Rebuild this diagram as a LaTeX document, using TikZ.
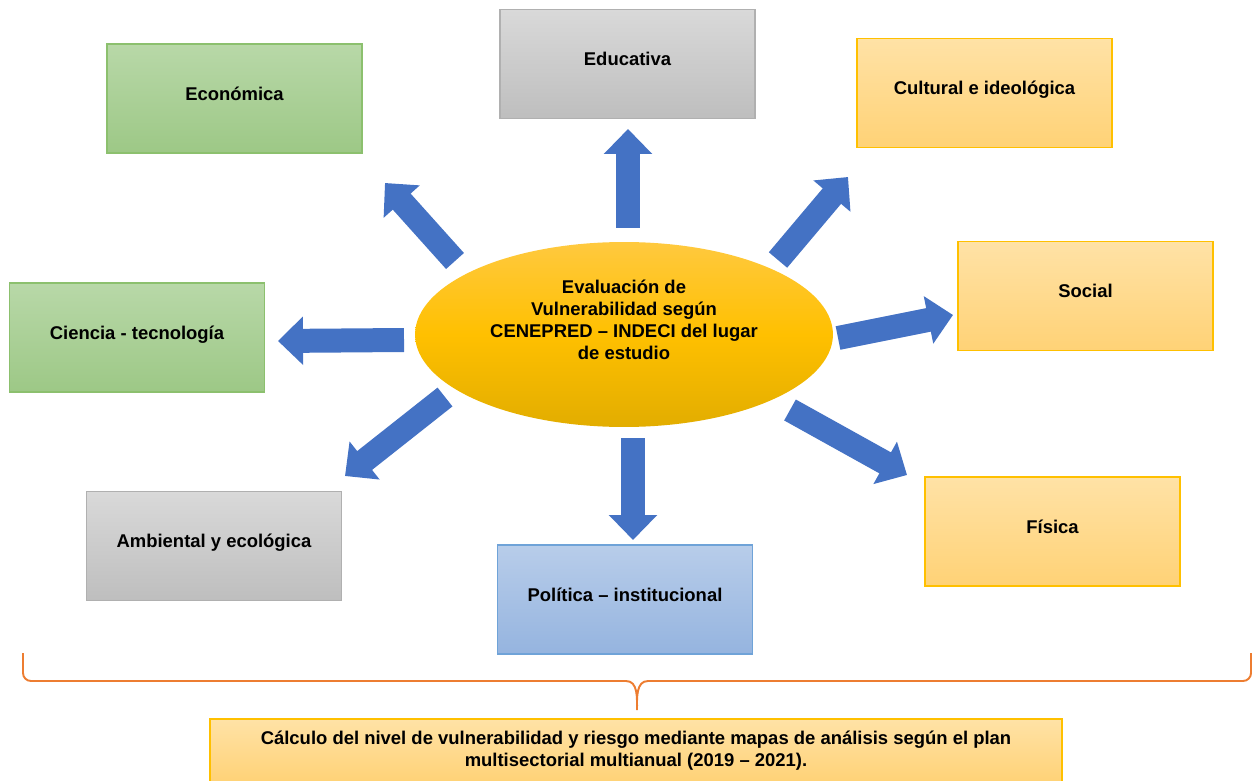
\documentclass[tikz,border=0pt]{standalone}
\usepackage{fontspec}
\setmainfont{Liberation Sans}
\usetikzlibrary{arrows.meta,shapes.geometric}
\definecolor{verdeborde}{HTML}{8CC06E}
\definecolor{verdearriba}{HTML}{B8D8A8}
\definecolor{verdeabajo}{HTML}{9DC886}
\definecolor{grisborde}{HTML}{B0B0B0}
\definecolor{grisarriba}{HTML}{D9D9D9}
\definecolor{grisabajo}{HTML}{BEBEBE}
\definecolor{amarilloborde}{HTML}{FFC000}
\definecolor{amarilloarriba}{HTML}{FFE2A6}
\definecolor{amarilloabajo}{HTML}{FFD276}
\definecolor{celesteborde}{HTML}{6FA3D8}
\definecolor{celestearriba}{HTML}{B8CDEA}
\definecolor{celesteabajo}{HTML}{95B4DF}
\definecolor{oroarriba}{HTML}{FFC93F}
\definecolor{oro}{HTML}{FFC000}
\definecolor{oroabajo}{HTML}{E2AD00}
\definecolor{azulflecha}{HTML}{4472C4}
\definecolor{naranja}{HTML}{ED7D31}
\begin{document}
\begin{tikzpicture}[x=0.02cm,y=-0.02cm,
	every node/.style={font=\bfseries\fontsize{10.5}{12.6}\selectfont,align=center},
	caja/.style={draw,line width=0.7pt,minimum width=5.1cm,minimum height=2.18cm,inner sep=0pt,text height=8pt,text depth=6pt},
	verde/.style={caja,draw=verdeborde,top color=verdearriba,bottom color=verdeabajo},
	gris/.style={caja,draw=grisborde,top color=grisarriba,bottom color=grisabajo},
	amarillo/.style={caja,draw=amarilloborde,top color=amarilloarriba,bottom color=amarilloabajo},
	celeste/.style={caja,draw=celesteborde,top color=celestearriba,bottom color=celesteabajo},
	flecha/.style={draw=azulflecha,line width=0.48cm,-{Triangle[width=0.94cm,length=0.5cm]}},
	llave/.style={draw=naranja,line width=1.1pt}]
	\useasboundingbox (0,0) rectangle (1256,780);
	% centro
	\node[ellipse,minimum width=8.36cm,minimum height=3.7cm,inner sep=0pt,top color=oroarriba,bottom color=oroabajo,middle color=oro] (eva) at (624,334.5) {};
	\node (evatexto) at (624,320) {Evaluación de\\Vulnerabilidad según\\CENEPRED – INDECI del lugar\\de estudio};
	% dimensiones
	\node[verde] (eco) at (234.5,98.5) {Económica};
	\node[gris] (edu) at (627.5,64) {Educativa};
	\node[amarillo] (cul) at (984.5,93) {Cultural e ideológica};
	\node[amarillo] (soc) at (1085.5,296) {Social};
	\node[verde] (cie) at (137,337.5) {Ciencia - tecnología};
	\node[gris] (amb) at (214,546) {Ambiental y ecológica};
	\node[celeste] (pol) at (625,599.5) {Política – institucional};
	\node[amarillo] (fis) at (1052.5,531.5) {Física};
	% flechas
	\coordinate (edu0) at (628,228); \coordinate (edu1) at (628,129);
	\coordinate (eco0) at (455,261); \coordinate (eco1) at (385,183);
	\coordinate (cul0) at (778,260); \coordinate (cul1) at (848,177);
	\coordinate (soc0) at (838,338); \coordinate (soc1) at (953,315);
	\coordinate (cie0) at (404,340); \coordinate (cie1) at (278,341);
	\coordinate (amb0) at (445,397); \coordinate (amb1) at (345,476);
	\coordinate (pol0) at (633,438); \coordinate (pol1) at (633,540);
	\coordinate (fis0) at (790,410); \coordinate (fis1) at (907,475);
	\draw[flecha] (edu0)--(edu1);
	\draw[flecha] (eco0)--(eco1);
	\draw[flecha] (cul0)--(cul1);
	\draw[flecha] (soc0)--(soc1);
	\draw[flecha] (cie0)--(cie1);
	\draw[flecha] (amb0)--(amb1);
	\draw[flecha] (pol0)--(pol1);
	\draw[flecha] (fis0)--(fis1);
	% llave y resultado
	\draw[llave] (23,653)--(23,673) to[out=-90,in=180] (31,681)--(626,681) to[out=0,in=90] (637,710) to[out=90,in=180] (648,681)--(1243,681) to[out=0,in=-90] (1251,673)--(1251,653);
	\node[amarillo,minimum width=17.04cm,minimum height=1.28cm,text height=,text depth=] (calc) at (636,751) {Cálculo del nivel de vulnerabilidad y riesgo mediante mapas de análisis según el plan\\multisectorial multianual (2019 – 2021).};
\end{tikzpicture}
\end{document}
